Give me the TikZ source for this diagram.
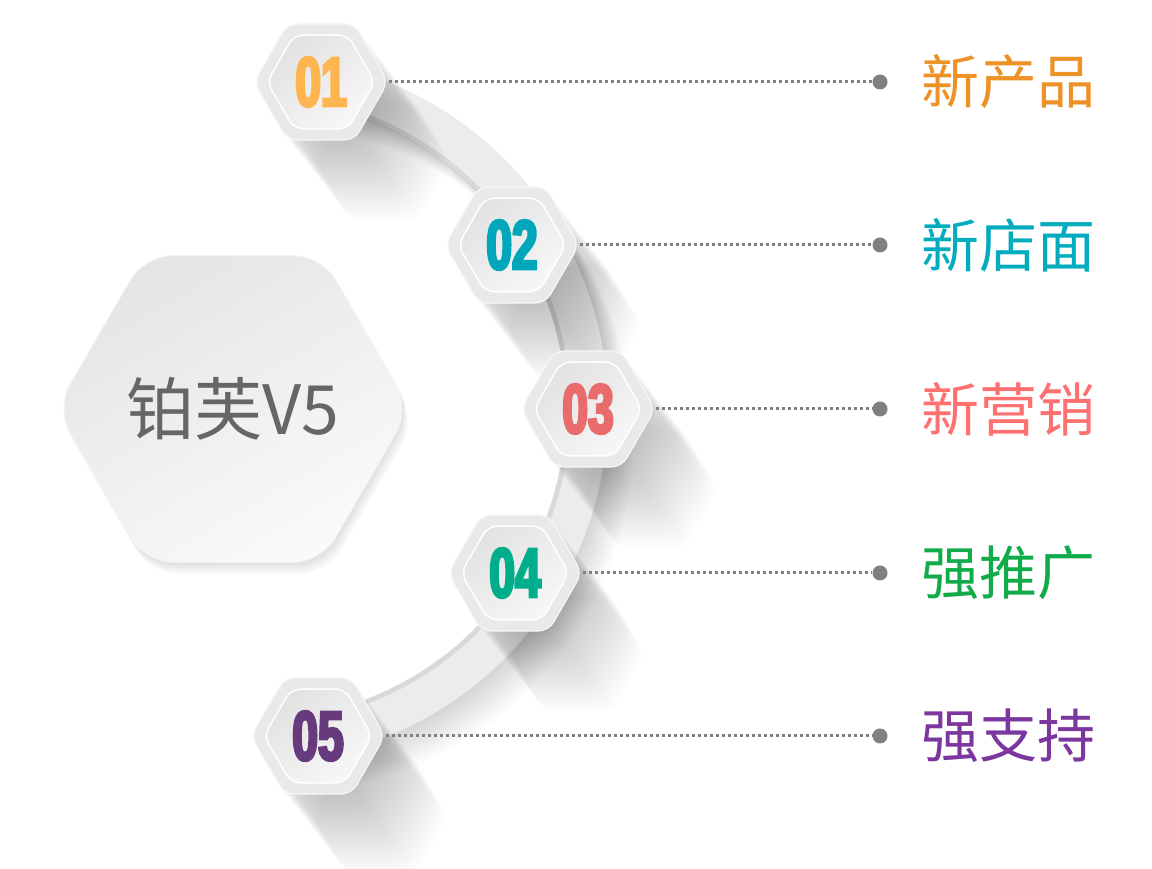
\documentclass[tikz,border=0pt]{standalone}
\usepackage{fontspec}
\setmainfont{Liberation Sans}
\newfontfamily\cjk{Noto Sans CJK SC}
\newfontfamily\numfont[FakeStretch=0.66,FakeBold=4]{Liberation Sans}
\usetikzlibrary{calc,shapes.geometric}

\definecolor{numA}{HTML}{FFB54F}
\definecolor{numB}{HTML}{00A6BA}
\definecolor{numC}{HTML}{E86C6C}
\definecolor{numD}{HTML}{00AE8C}
\definecolor{numE}{HTML}{663A7C}
\definecolor{txtA}{HTML}{EE9126}
\definecolor{txtB}{HTML}{00ACBE}
\definecolor{txtC}{HTML}{FF7171}
\definecolor{txtD}{HTML}{12AB4A}
\definecolor{txtE}{HTML}{7B36A0}
\definecolor{hexgray}{HTML}{E9E9E9}
\definecolor{innerdark}{HTML}{E2E2E2}
\definecolor{innerlight}{HTML}{F7F7F7}
\definecolor{ringgray}{HTML}{ECECEC}
\definecolor{dotgray}{HTML}{808080}
\definecolor{titlegray}{HTML}{666666}

\def\ringarc[#1](#2,#3)(#4){\draw[#1] ($(#2,#3)+(80:#4)$) arc (80:-80:#4);}
\def\hexshadow(#1,#2)(#3){\foreach \k in {1,...,30}{\fill[hexshade] (#1+\k*2.1,#2-\k*2.7) ++(0:#3) -- ++(120:#3) -- ++(180:#3) -- ++(240:#3) -- ++(300:#3) -- ++(0:#3) -- cycle;}}

\tikzset{
	hexouter/.style={regular polygon, regular polygon sides=6, minimum size=134pt, inner sep=0pt, rounded corners=10pt, fill=hexgray, draw=white!97!black, line width=1.2pt},
	hexinner/.style={regular polygon, regular polygon sides=6, minimum size=108pt, inner sep=0pt, rounded corners=9pt, top color=innerdark, bottom color=innerlight, shading angle=40, draw=white, line width=1.5pt, font=\numfont\bfseries\fontsize{70}{70}\selectfont},
	centerhex/.style={regular polygon, regular polygon sides=6, minimum size=354pt, inner sep=0pt, rounded corners=28pt, top color=innerdark!90!white, bottom color=white!98!black, shading angle=30, draw=white!95!black, line width=1pt, text=titlegray, font=\cjk\fontsize{68}{68}\selectfont},
	hexshade/.style={fill=black, opacity=0.009, rounded corners=10pt},
	ringshade/.style={line width=42pt, draw=black, opacity=0.016},
	ringband/.style={line width=42pt, draw=ringgray},
	ringedge/.style={line width=5pt, draw=black, opacity=0.08},
	dotline/.style={draw=dotgray, line width=3pt, dash pattern=on 3pt off 3pt},
	dotend/.style={circle, fill=dotgray, minimum size=15pt, inner sep=0pt},
	labeltext/.style={anchor=west, inner sep=0pt, font=\cjk\fontsize{58}{58}\selectfont}
}

\begin{document}
\begin{tikzpicture}[x=1pt, y=1pt]
		%%%%% START %%%%%
		\useasboundingbox (0,0) rectangle (1152,869);
		\fill[white] (0,0) rectangle (1152,869);
		
		% ring, with its soft shadow
		\foreach \k in {1,...,10}{\ringarc[ringshade](255+\k*2.5,460-\k*3)(332)}
		
		% big hexagon
		\foreach \k in {1,...,6}{\fill[hexshade, opacity=0.02, rounded corners=28pt] (233+\k,460-\k*2) ++(0:177) -- ++(120:177) -- ++(180:177) -- ++(240:177) -- ++(300:177) -- ++(0:177) -- cycle;}
		\node[centerhex] (core) at (233, 460) {铂芙V5};
		
		\ringarc[ringband](255,460)(332)
		\ringarc[ringedge](255,460)(313)
		
		% long shadows of the small hexagons
		\hexshadow(321,787)(67)
		\hexshadow(512,624)(67)
		\hexshadow(588,460)(67)
		\hexshadow(515,296)(67)
		\hexshadow(318,133)(67)
		
		% small hexagons
		\node[hexouter] (o1) at (321, 787) {};
		\node[hexinner, text=numA] (n1) at (o1) {01};
		\node[hexouter] (o2) at (512, 624) {};
		\node[hexinner, text=numB] (n2) at (o2) {02};
		\node[hexouter] (o3) at (588, 460) {};
		\node[hexinner, text=numC] (n3) at (o3) {03};
		\node[hexouter] (o4) at (515, 296) {};
		\node[hexinner, text=numD] (n4) at (o4) {04};
		\node[hexouter] (o5) at (318, 133) {};
		\node[hexinner, text=numE] (n5) at (o5) {05};
		
		% dots and labels
		\node[dotend] (d1) at (880, 787) {};
		\node[dotend] (d2) at (880, 624) {};
		\node[dotend] (d3) at (880, 460) {};
		\node[dotend] (d4) at (880, 296) {};
		\node[dotend] (d5) at (880, 133) {};
		\draw[dotline] (o1.east) -- (d1);
		\draw[dotline] (o2.east) -- (d2);
		\draw[dotline] (o3.east) -- (d3);
		\draw[dotline] (o4.east) -- (d4);
		\draw[dotline] (o5.east) -- (d5);
		
		\node[labeltext, text=txtA] (l1) at (921, 787) {新产品};
		\node[labeltext, text=txtB] (l2) at (921, 624) {新店面};
		\node[labeltext, text=txtC] (l3) at (921, 460) {新营销};
		\node[labeltext, text=txtD] (l4) at (921, 296) {强推广};
		\node[labeltext, text=txtE] (l5) at (921, 133) {强支持};
		
		%%%%% END %%%%%
	\end{tikzpicture}
\end{document}
